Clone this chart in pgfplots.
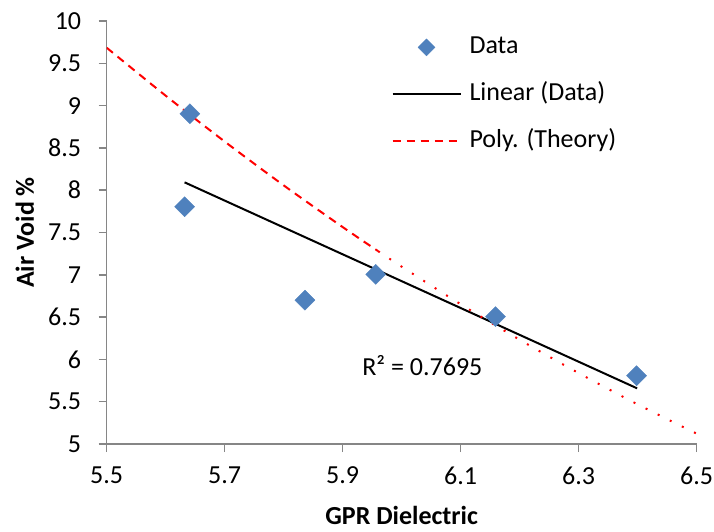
\documentclass[border=0pt]{standalone}
\usepackage{pgfplots}
\pgfplotsset{compat=1.18}
\usepackage{fontspec}
\setmainfont{Carlito}
\definecolor{xlblue}{RGB}{79,129,189}
\definecolor{axgray}{RGB}{134,134,134}
\pgfplotsset{
  linelegend/.style={legend image code/.code={\draw[##1] (0pt,0pt) -- (68pt,0pt);}},
  marklegend/.style={legend image code/.code={\path (0pt,0pt) (68pt,0pt);
    \draw[##1, mark size=6pt] plot coordinates {(34pt,0pt)};}},
}
\begin{document}
\begin{tikzpicture}
\begin{axis}[
  at={(0pt,0pt)}, anchor=south west,
  scale only axis, width=590pt, height=423pt,
  xmin=5.5, xmax=6.5, ymin=5, ymax=10,
  xtick={5.5,5.7,5.9,6.1,6.3,6.5},
  ytick={5,5.5,6,6.5,7,7.5,8,8.5,9,9.5,10},
  axis lines*=left,
  axis line style={draw=axgray, line width=1.5pt},
  tick style={draw=axgray, line width=1.5pt},
  tick align=outside,
  major tick length=8pt,
  /pgf/number format/assume math mode=true,
  ticklabel style={font=\fontsize{26}{31}\selectfont},
  xticklabel style={yshift=-11pt},
  yticklabel style={xshift=-14pt},
  xlabel={GPR Dielectric}, ylabel={Air Void \%},
  label style={font=\bfseries\fontsize{26}{31}\selectfont, inner sep=0pt},
  xlabel style={at={(rel axis cs:0.5,-0.169)}, anchor=center},
  ylabel style={at={(rel axis cs:-0.1385,0.5)}, anchor=center},
  legend style={draw=none, fill=none, at={(rel axis cs:0.4824,0.9669)}, anchor=north west,
    inner sep=0pt, row sep=22.2pt, column sep=8pt,
    font=\fontsize{26}{31}\selectfont,
    nodes={inner sep=0pt, text height=18.5pt, text depth=6pt}},
  legend cell align=left,
]
\addplot[only marks, mark=square*, mark size=7.07pt, color=xlblue,
  mark options={rotate=45, fill=xlblue, draw=xlblue}, marklegend]
  coordinates {(5.632,7.805) (5.641,8.904) (5.836,6.70) (5.956,7.006) (6.159,6.505) (6.398,5.807)};
\addlegendentry{Data}
\addplot[black, line width=2pt, linelegend]
  coordinates {(5.632,8.093) (6.399,5.658)};
\addlegendentry{Linear (Data)}
\addplot[red, line width=2pt, dash pattern=on 8pt off 6pt, smooth, linelegend]
  coordinates {(5.5,9.684) (5.6,9.117) (5.7,8.575) (5.8,8.057) (5.9,7.564) (5.96,7.280)};
\addlegendentry{Poly. (Theory)}
\addplot[red, line width=2pt, dash pattern=on 2pt off 11.5pt, smooth, forget plot]
  coordinates {(5.96,7.280) (6.0,7.096) (6.1,6.652) (6.2,6.232) (6.3,5.838) (6.4,5.468) (6.5,5.122)};
\node[anchor=west, inner sep=0pt, font=\fontsize{26}{31}\selectfont] at (axis cs:5.933,5.928) {R² = 0.7695};
\end{axis}
\pgfresetboundingbox
\path (-106.7pt,-87pt) rectangle (607.3pt,444pt);
\end{tikzpicture}
\end{document}
